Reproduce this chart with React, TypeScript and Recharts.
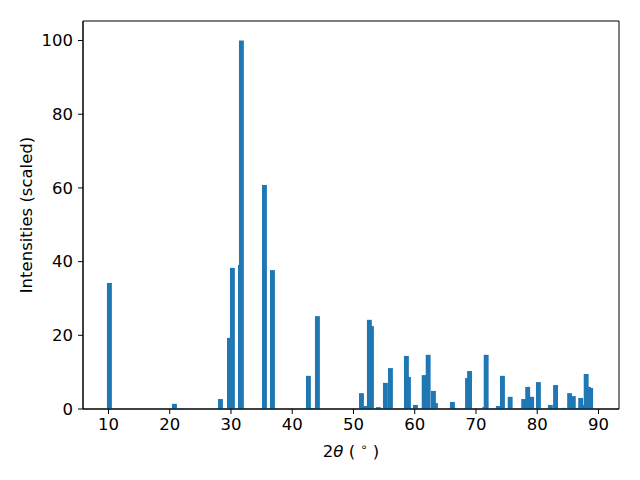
import { BarChart, Bar, XAxis, YAxis, Label, ReferenceArea } from 'recharts';

// peak positions (2theta, degrees) and scaled intensities
const angles = [
  10.16, 20.78, 28.29, 29.76, 30.24, 31.55, 31.71, 35.47, 36.78, 42.65,
  43.06, 44.12, 51.31, 51.88, 52.6, 52.94, 54.08, 55.22, 56.04, 58.65,
  58.98, 60.12, 61.55, 62.2, 63.06, 63.39, 66.16, 66.49, 68.63, 68.96,
  71.43, 71.67, 73.66, 74.33, 75.59, 77.8, 78.45, 79.1, 80.2, 82.15,
  83.0, 84.3, 85.3, 85.9, 86.5, 87.1, 87.45, 88.0, 88.37, 88.73,
];
const intensities = [
  34.2, 1.4, 2.7, 19.3, 38.3, 39.1, 100, 60.8, 37.7, 9.0,
  0.3, 25.2, 4.3, 0.8, 24.2, 22.5, 0.5, 7.1, 11.1, 14.4,
  8.7, 1.1, 9.2, 14.7, 4.9, 1.6, 1.9, 0.3, 8.4, 10.3,
  0.5, 14.7, 0.8, 9.0, 3.3, 2.7, 6.0, 3.3, 7.3, 1.1,
  6.5, 0.3, 4.3, 3.5, 0.3, 3.0, 1.1, 9.5, 6.0, 5.7,
];
const xTicks = [10, 20, 30, 40, 50, 60, 70, 80, 90];
const yTicks = [0, 20, 40, 60, 80, 100];

const data = angles.map((a, i) => ({ angle: a, intensity: intensities[i] }));

const X_DOMAIN = [5.84, 93.35];
const Y_DOMAIN = [0, 105.3];
const font = 'DejaVu Sans';
const fs = 16.5;
const tickStyle = { fill: '#000', fontSize: fs, fontFamily: font };
const BAR_W = 4.9;

// fixed-width bar centred on the scaled x position
const PeakBar = (props: any) => {
  const { x, y, width, height } = props;
  if (height == null || height <= 0) return null;
  return <rect x={x + width / 2 - BAR_W / 2} y={y} width={BAR_W} height={height} fill="#1f77b4" />;
};

export default function App() {
  return (
    <div style={{ position: 'absolute', left: 0, top: 0, background: '#fff' }}>
      <BarChart width={640} height={480} data={data}
        margin={{ top: 21, right: 21, bottom: 0, left: 0 }}>
        <XAxis dataKey="angle" type="number" domain={X_DOMAIN} ticks={xTicks}
          allowDataOverflow height={71} tick={tickStyle} tickSize={5} tickMargin={4}
          axisLine={{ stroke: '#000' }} tickLine={{ stroke: '#000' }}>
          <Label content={() => (
            <text x={351} y={457} textAnchor="middle" fontFamily={font} fontSize={fs} fill="#000">
              2<tspan fontStyle="italic">θ</tspan> ( <tspan fontSize={11.5} dy={-6}>∘</tspan><tspan dy={6}> )</tspan>
            </text>
          )} />
        </XAxis>
        <YAxis domain={Y_DOMAIN} ticks={yTicks} allowDataOverflow width={83}
          tick={tickStyle} tickSize={5} tickMargin={5}
          axisLine={{ stroke: '#000' }} tickLine={{ stroke: '#000' }}>
          <Label content={() => (
            <text x={26} y={215} transform="rotate(-90, 26, 215)" textAnchor="middle"
              dominantBaseline="central" fontFamily={font} fontSize={fs} fill="#000">
              Intensities (scaled)
            </text>
          )} />
        </YAxis>
        <Bar dataKey="intensity" barSize={5} shape={PeakBar} isAnimationActive={false} />
        <ReferenceArea x1={X_DOMAIN[0]} x2={X_DOMAIN[1]} y1={Y_DOMAIN[0]} y2={Y_DOMAIN[1]}
          fill="none" stroke="#000" strokeWidth={1} ifOverflow="visible" />
      </BarChart>
    </div>
  );
}
